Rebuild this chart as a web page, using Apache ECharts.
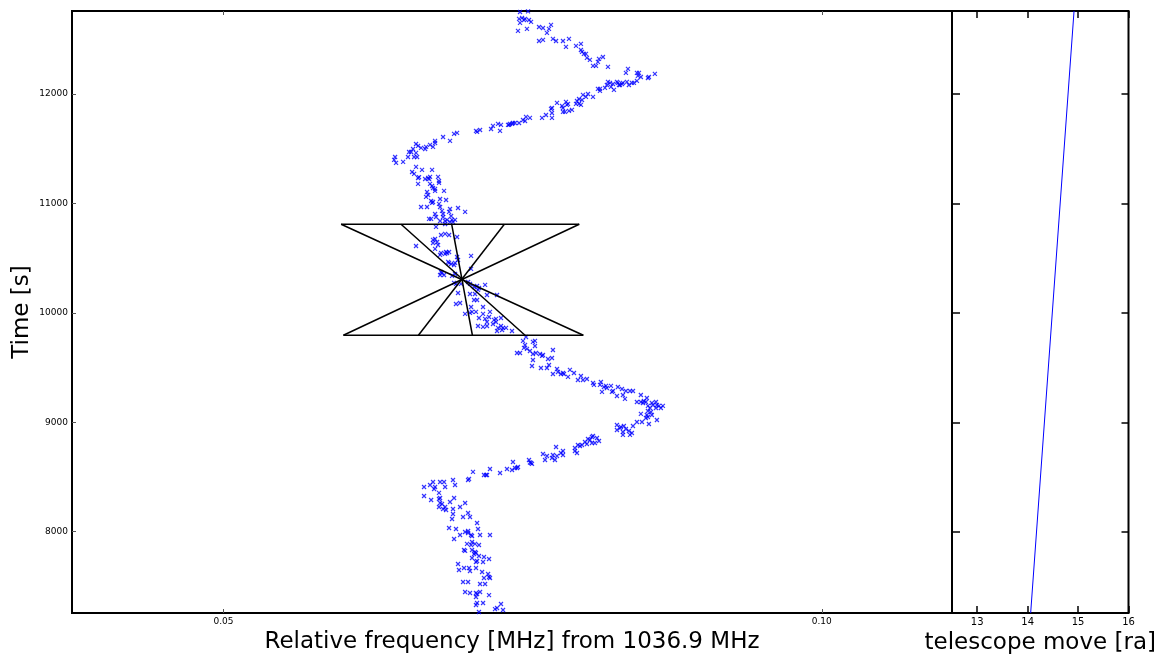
<!DOCTYPE html>
<html>
<head>
<meta charset="utf-8">
<script src="https://cdn.jsdelivr.net/npm/echarts@6/dist/echarts.min.js"></script>
<style>
  html, body { margin: 0; padding: 0; background: #ffffff; }
  #chart { width: 1164px; height: 660px; }
</style>
</head>
<body>
<div id="chart"></div>
<script>
// Axis ranges and tick positions
const freqRange = [0.03734, 0.11088];
const timeRange = [7257, 12758];
const moveRange = [12.5, 16];
const freqTicks = [0.05, 0.10];
const timeTicks = [8000, 9000, 10000, 11000, 12000];
const moveTicks = [13, 14, 15, 16];

// Measured line positions (MHz offset) and times (s)
const scatterFreq = [
  0.07478,0.07545,0.07470,0.07495,0.07520,0.07553,0.07570,0.07478,0.07511,0.07461,
  0.07536,0.07637,0.07670,0.07737,0.07720,0.07703,0.07637,0.07670,0.07753,0.07779,
  0.07837,0.07887,0.07862,0.07946,0.07987,0.07987,0.07996,0.08012,0.08029,0.08037,
  0.08062,0.08138,0.08171,0.08129,0.08088,0.08113,0.08213,0.08380,0.08363,0.08455,
  0.08472,0.08463,0.08488,0.08547,0.08555,0.08605,0.08455,0.08430,0.08413,0.08388,
  0.08371,0.08338,0.08313,0.08296,0.08288,0.08255,0.08230,0.08213,0.08204,0.08238,
  0.08188,0.08146,0.08129,0.08146,0.08263,0.08305,0.08330,0.08088,0.08046,0.08029,
  0.08004,0.07971,0.07954,0.07996,0.07971,0.07946,0.07862,0.07787,0.07879,0.07829,
  0.07870,0.07837,0.07837,0.07854,0.07887,0.07912,0.07987,0.07745,0.07737,0.07745,
  0.07745,0.07695,0.07662,0.07528,0.07561,0.07520,0.07503,0.07470,0.07419,0.07436,
  0.07411,0.07386,0.07378,0.07394,0.07319,0.07294,0.07252,0.07236,0.07311,0.07144,
  0.07110,0.07119,0.06952,0.06927,0.06893,0.06835,0.06768,0.06768,0.06751,0.06726,
  0.06693,0.06685,0.06651,0.06626,0.06609,0.06584,0.06609,0.06568,0.06551,0.06542,
  0.06593,0.06618,0.06434,0.06426,0.06442,0.06501,0.06609,0.06659,0.06743,0.06576,
  0.06593,0.06626,0.06634,0.06685,0.06718,0.06726,0.06710,0.06793,0.06801,0.06801,
  0.06626,0.06726,0.06743,0.06768,0.06751,0.06768,0.06843,0.06701,0.06710,0.06693,
  0.06810,0.06860,0.06735,0.06751,0.06743,0.06651,0.06701,0.06801,0.06810,0.06893,
  0.06960,0.06826,0.06835,0.06885,0.07019,0.06718,0.06735,0.06768,0.06776,0.06810,
  0.06835,0.06852,0.06868,0.06902,0.06910,0.06893,0.06935,0.06918,0.06776,0.06852,
  0.06818,0.06852,0.06885,0.06952,0.06751,0.06768,0.06751,0.06785,0.06793,0.06768,
  0.06609,0.06818,0.06810,0.06852,0.06860,0.06885,0.06868,0.06952,0.06960,0.07069,
  0.06877,0.06885,0.06902,0.06935,0.06927,0.06810,0.06826,0.06843,0.06818,0.06935,
  0.06910,0.07069,0.06927,0.06943,0.06985,0.07044,0.07060,0.07119,0.07094,0.07135,
  0.07127,0.07186,0.07202,0.06960,0.07060,0.07102,0.07119,0.07094,0.07286,0.06943,
  0.06977,0.07069,0.07077,0.07060,0.07110,0.07019,0.07169,0.07169,0.07227,0.07219,
  0.07135,0.07186,0.07202,0.07261,0.07277,0.07319,0.07277,0.07252,0.07202,0.07127,
  0.07169,0.07294,0.07319,0.07336,0.07361,0.07286,0.07411,0.07328,0.07528,0.07503,
  0.07520,0.07511,0.07536,0.07586,0.07603,0.07603,0.07453,0.07478,0.07561,0.07586,
  0.07611,0.07645,0.07662,0.07670,0.07753,0.07586,0.07578,0.07653,0.07712,0.07745,
  0.07720,0.07703,0.07787,0.07795,0.07820,0.07837,0.07845,0.07753,0.07895,0.07929,
  0.07879,0.07987,0.07962,0.08004,0.08037,0.08088,0.08096,0.08154,0.08146,0.08179,
  0.08204,0.08196,0.08238,0.08255,0.08296,0.08330,0.08363,0.08397,0.08422,0.08246,
  0.08163,0.08288,0.08338,0.08355,0.08488,0.08488,0.08455,0.08505,0.08513,0.08538,
  0.08530,0.08547,0.08580,0.08589,0.08614,0.08622,0.08639,0.08655,0.08672,0.08614,
  0.08564,0.08547,0.08572,0.08538,0.08530,0.08547,0.08488,0.08497,0.08555,0.08622,
  0.08580,0.08288,0.08321,0.08313,0.08346,0.08363,0.08422,0.08455,0.08288,0.08338,
  0.08338,0.08397,0.08413,0.08388,0.08088,0.08079,0.08121,0.08138,0.08104,0.08079,
  0.08062,0.08046,0.08037,0.08021,0.07996,0.07962,0.07937,0.07937,0.07954,0.07979,
  0.07779,0.07837,0.07820,0.07837,0.07787,0.07745,0.07770,0.07753,0.07687,0.07703,
  0.07670,0.07553,0.07570,0.07578,0.07561,0.07419,0.07436,0.07453,0.07461,0.07411,
  0.07369,0.07311,0.07227,0.07202,0.07177,0.07194,0.07085,0.07052,0.07044,0.06918,
  0.06843,0.06810,0.06751,0.06726,0.06768,0.06760,0.06676,0.06935,0.06852,0.06801,
  0.06810,0.06801,0.06676,0.06735,0.06893,0.06927,0.06810,0.06826,0.06801,0.06852,
  0.06860,0.06835,0.06918,0.06977,0.07019,0.06918,0.07044,0.07002,0.07060,0.06910,
  0.07119,0.06885,0.06943,0.06977,0.07019,0.07044,0.07044,0.07069,0.07077,0.07127,
  0.07144,0.07227,0.06927,0.07035,0.07077,0.07069,0.07102,0.07135,0.07077,0.07010,
  0.07019,0.07110,0.07094,0.07102,0.07135,0.07077,0.07177,0.07219,0.07110,0.07119,
  0.07169,0.06960,0.06968,0.07010,0.07052,0.07060,0.07110,0.07161,0.07211,0.07219,
  0.07227,0.07177,0.07002,0.07044,0.07144,0.07186,0.07019,0.07060,0.07110,0.07119,
  0.07144,0.07219,0.07110,0.07119,0.07110,0.07169,0.07319,0.07269,0.07286,0.07336,0.07135
];
const scatterTime = [
  12749,12755,12686,12695,12686,12676,12658,12649,12676,12576,
  12594,12612,12603,12631,12594,12558,12484,12494,12503,12484,
  12484,12503,12430,12439,12457,12402,12384,12366,12366,12329,
  12311,12320,12338,12293,12256,12256,12247,12229,12192,12192,
  12192,12165,12155,12146,12155,12183,12119,12101,12101,12082,
  12110,12101,12082,12101,12110,12091,12101,12110,12082,12064,
  12055,12046,12046,12028,12037,12082,12091,11973,12000,11973,
  11991,11954,11936,11945,11909,11909,11927,11918,11909,11890,
  11900,11872,11836,11836,11845,11854,11900,11872,11863,11826,
  11781,11808,11781,11790,11781,11753,11762,11735,11735,11735,
  11726,11717,11717,11726,11717,11726,11708,11680,11662,11671,
  11662,11653,11644,11635,11571,11607,11571,11552,11516,11534,
  11516,11497,11507,11525,11543,11497,11461,11470,11470,11424,
  11424,11424,11424,11397,11370,11379,11333,11306,11306,11287,
  11269,11232,11240,11223,11223,11242,11232,11242,11205,11187,
  11178,11178,11159,11132,11141,11114,11114,11104,11077,11059,
  11040,11031,11022,11013,11004,10967,10967,10995,10967,10949,
  10958,10931,10903,10922,10922,10858,10858,10903,10876,10839,
  10876,10839,10849,10885,10849,10830,10849,10830,10785,10812,
  10711,10721,10711,10693,10666,10675,10638,10647,10620,10584,
  10611,10547,10529,10538,10556,10556,10547,10510,10483,10520,
  10465,10456,10446,10456,10437,10346,10364,10346,10373,10355,
  10337,10401,10273,10264,10264,10282,10264,10245,10236,10227,
  10209,10255,10163,10181,10172,10172,10117,10117,10163,10081,
  10090,10053,10008,9999,10008,9990,10053,9990,10008,9962,
  9953,9944,9916,9935,9944,9953,9916,9898,9880,9880,
  9871,9862,9880,9862,9862,9834,9834,9843,9779,9743,
  9706,9679,9670,9734,9743,9697,9633,9633,9651,9624,
  9633,9624,9606,9615,9660,9569,9514,9496,9578,9587,
  9523,9496,9487,9459,9441,9450,9441,9441,9478,9450,
  9414,9423,9386,9386,9395,9359,9341,9368,9341,9322,
  9313,9332,9332,9286,9322,9304,9286,9286,9286,9277,
  9277,9240,9249,9213,9249,9185,9185,9176,9194,9222,
  9185,9149,9176,9158,9185,9158,9149,9130,9149,9130,
  9130,9103,9094,9066,9039,9048,9076,9002,8984,9021,
  9066,8975,8957,8947,8966,8938,8966,9002,8929,8911,
  8884,8884,8902,8920,8874,8865,8856,8829,8810,8810,
  8838,8847,8801,8820,8792,8792,8765,8737,8719,8783,
  8774,8737,8719,8701,8692,8673,8655,8701,8655,8692,
  8710,8655,8628,8619,8632,8637,8582,8582,8591,8564,
  8573,8536,8573,8518,8518,8518,8546,8482,8472,8472,
  8454,8454,8454,8427,8408,8390,8408,8427,8408,8354,
  8308,8299,8326,8290,8271,8308,8262,8253,8226,8226,
  8198,8207,8207,8226,8262,8162,8171,8134,8134,8116,
  8079,8034,8025,7970,7997,8006,7988,7970,7961,8025,
  7970,7970,7933,7888,7906,7878,7888,7878,7833,7833,
  7824,7805,7796,7814,7778,7760,7769,7750,7723,7732,
  7723,7705,7650,7668,7668,7641,7668,7632,7613,7586,
  7577,7577,7540,7540,7522,7522,7449,7440,7440,7431,
  7449,7421,7403,7348,7330,7348,7339,7293,7303,7284,7266
];

// Drift-rate cone: each upper edge point is joined to the matching lower edge point
const coneTime = [10809, 9795];
const coneTopFreq = [0.05983, 0.06484, 0.06907, 0.07347, 0.07973];
const coneBottomFreq = [0.08007, 0.07520, 0.07080, 0.06629, 0.06002];

// Telescope pointing track
const moveRa = [14.06, 14.92];
const moveTime = [7257, 12758];

const FONT = 'DejaVu Sans, Liberation Sans, sans-serif';

const scatterData = [];
for (let i = 0; i < Math.min(scatterFreq.length, scatterTime.length); i++) {
  scatterData.push([scatterFreq[i], scatterTime[i]]);
}

function segment(a, b) {
  return {
    type: 'line', xAxisIndex: 0, yAxisIndex: 0,
    data: [a, b], symbol: 'none', silent: true, z: 3,
    lineStyle: { color: '#000000', width: 1.5 }
  };
}

const coneSeries = [
  segment([coneTopFreq[0], coneTime[0]], [coneTopFreq[coneTopFreq.length - 1], coneTime[0]]),
  segment([coneBottomFreq[coneBottomFreq.length - 1], coneTime[1]], [coneBottomFreq[0], coneTime[1]])
];
for (let i = 0; i < coneTopFreq.length; i++) {
  coneSeries.push(segment([coneTopFreq[i], coneTime[0]], [coneBottomFreq[i], coneTime[1]]));
}

const thinTick = { show: true, inside: true, length: 4, lineStyle: { color: '#555555', width: 1 } };
const boldTick = { show: true, inside: true, length: 7, lineStyle: { color: '#000000', width: 1.5 } };

const chart = echarts.init(document.getElementById('chart'), null, { renderer: 'canvas' });
chart.setOption({
  animation: false,
  backgroundColor: '#ffffff',
  grid: [
    { left: 72, right: 212, top: 11, bottom: 47, show: true, borderColor: '#000000', borderWidth: 2, backgroundColor: 'transparent', containLabel: false, outerBoundsMode: 'none' },
    { left: 952, right: 35.5, top: 11, bottom: 47, show: true, borderColor: '#000000', borderWidth: 2, backgroundColor: 'transparent', containLabel: false, outerBoundsMode: 'none' }
  ],
  xAxis: [
    {
      gridIndex: 0, type: 'value', position: 'bottom',
      min: freqRange[0], max: freqRange[1],
      axisLine: { show: false },
      axisTick: Object.assign({ customValues: freqTicks }, thinTick),
      axisLabel: { customValues: freqTicks, formatter: v => v.toFixed(2), fontSize: 9, fontFamily: FONT, color: '#000000', margin: 4 },
      splitLine: { show: false },
      name: 'Relative frequency [MHz] from 1036.9 MHz', nameLocation: 'middle', nameGap: 14,
      nameTextStyle: { fontSize: 23, fontFamily: FONT, color: '#000000' }
    },
    {
      gridIndex: 0, type: 'value', position: 'top',
      min: freqRange[0], max: freqRange[1],
      axisLine: { show: false },
      axisTick: Object.assign({ customValues: freqTicks }, thinTick),
      axisLabel: { show: false },
      splitLine: { show: false }
    },
    {
      gridIndex: 1, type: 'value', position: 'bottom',
      min: moveRange[0], max: moveRange[1],
      axisLine: { show: false },
      axisTick: Object.assign({ customValues: moveTicks }, boldTick),
      axisLabel: { customValues: moveTicks, formatter: v => String(v), fontSize: 10, fontFamily: FONT, color: '#000000', margin: 4 },
      splitLine: { show: false },
      name: 'telescope move [ra]', nameLocation: 'middle', nameGap: 14,
      nameTextStyle: { fontSize: 23, fontFamily: FONT, color: '#000000' }
    },
    {
      gridIndex: 1, type: 'value', position: 'top',
      min: moveRange[0], max: moveRange[1],
      axisLine: { show: false },
      axisTick: Object.assign({ customValues: moveTicks }, boldTick),
      axisLabel: { show: false },
      splitLine: { show: false }
    }
  ],
  yAxis: [
    {
      gridIndex: 0, type: 'value', position: 'left',
      min: timeRange[0], max: timeRange[1],
      axisLine: { show: false },
      axisTick: Object.assign({ customValues: timeTicks }, thinTick),
      axisLabel: { customValues: timeTicks, formatter: v => String(v), fontSize: 9, fontFamily: FONT, color: '#000000', margin: 4 },
      splitLine: { show: false },
      name: 'Time [s]', nameLocation: 'middle', nameGap: 38, nameRotate: 90, nameMoveOverlap: false,
      nameTextStyle: { fontSize: 23, fontFamily: FONT, color: '#000000' }
    },
    {
      gridIndex: 1, type: 'value', position: 'left',
      min: timeRange[0], max: timeRange[1],
      axisLine: { show: false },
      axisTick: Object.assign({ customValues: timeTicks }, boldTick, { length: 8 }),
      axisLabel: { show: false },
      splitLine: { show: false }
    },
    {
      gridIndex: 1, type: 'value', position: 'right',
      min: timeRange[0], max: timeRange[1],
      axisLine: { show: false },
      axisTick: Object.assign({ customValues: timeTicks }, boldTick),
      axisLabel: { show: false },
      splitLine: { show: false }
    }
  ],
  series: [
    {
      type: 'scatter', xAxisIndex: 0, yAxisIndex: 0,
      data: scatterData,
      symbol: 'path://M0,0L10,10M10,0L0,10',
      symbolSize: 4,
      itemStyle: { color: 'transparent', borderColor: '#0000ff', borderWidth: 1.2 },
      silent: true, z: 2
    },
    ...coneSeries,
    {
      type: 'line', xAxisIndex: 2, yAxisIndex: 1,
      data: moveRa.map((r, i) => [r, moveTime[i]]),
      symbol: 'none', silent: true,
      lineStyle: { color: '#0000ff', width: 1 }
    }
  ]
});
</script>
</body>
</html>
